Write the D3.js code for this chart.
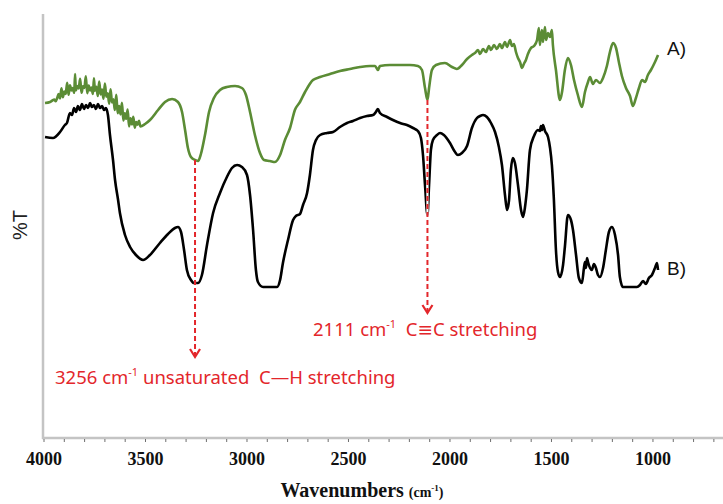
<!DOCTYPE html>
<html>
<head>
<meta charset="utf-8">
<script src="https://cdn.jsdelivr.net/npm/d3@7"></script>
<style>
  html, body { margin: 0; padding: 0; background: #fff; }
  svg { display: block; }
</style>
</head>
<body>
<svg id="chart" width="723" height="504"></svg>
<script>
// FTIR spectra: A) green trace, B) black trace (wavenumber in cm-1, transmittance in arbitrary %T units)
const aWavenumber = [3995,3970,3950,3942,3935,3928,3921,3914,3907,3900,3893,3886,3879,3872,3865,3858,3851,3847,3843,3836,3829,3822,3815,3808,3801,3794,3787,3780,3773,3766,3759,3754,3749,3742,3735,3728,3721,3714,3707,3700,3693,3686,3679,3672,3665,3658,3651,3644,3637,3630,3623,3616,3609,3602,3595,3588,3581,3574,3567,3560,3553,3546,3539,3532,3525,3502,3478,3438,3404,3369,3340,3320,3305,3291,3276,3256,3241,3227,3207,3187,3163,3133,3099,3059,3025,3005,2985,2961,2936,2916,2887,2862,2837,2813,2788,2764,2739,2714,2675,2640,2591,2542,2493,2443,2394,2369,2355,2345,2296,2246,2197,2158,2138,2123,2111,2103,2089,2069,2025,1990,1966,1941,1916,1892,1877,1862,1852,1837,1823,1808,1798,1783,1769,1754,1744,1729,1719,1704,1695,1685,1675,1665,1655,1645,1636,1626,1616,1601,1586,1571,1562,1557,1547,1542,1532,1527,1517,1507,1498,1493,1478,1458,1448,1434,1419,1404,1389,1370,1350,1335,1320,1310,1296,1281,1261,1246,1227,1212,1197,1182,1168,1153,1133,1113,1099,1084,1069,1054,1039,1025,1010,990,975];
const aTransmittance = [83.75,84,84.6,84.2,85.0,86.0,84.9,87.4,85.2,86.6,86.0,88.8,85.8,88.2,86.9,87.5,86.3,91.0,86.9,88.0,87.4,89.8,86.3,87.9,87.5,90.4,86.2,88.1,86.9,87.6,86.0,89.9,86.8,87.8,85.5,89.1,85.9,87.1,84.8,88.6,85.3,86.2,83.6,87.2,83.9,84.7,82.0,85.8,81.2,83.0,80.9,83.8,79.4,81.2,79.8,82.1,77.9,79.9,78.4,80.3,77.6,79.0,78.3,79.3,77.9,78.5,79.5,82,84,84.75,84,81.5,77,72.5,70.25,69.5,69.25,71,75.75,81.5,85,87,87.75,88,87.5,85.75,81.5,75.75,71.25,69.5,69.25,69,70.75,74.5,77.5,82,84,86.5,89.5,90.25,91,91.75,92.25,92.75,93,93,92,93,93.25,93.25,93.25,93,92,87.5,84.5,87.5,92,93.25,93.75,92.75,92.25,93.25,94.75,95.75,96.25,97,96,97.25,96.5,98,97,98.25,97.25,98.5,97.5,99,97.75,99.5,98,98.5,96.5,95,94,92.5,93.5,94.5,96,97.5,98,99.5,102.5,98.25,102,99,102.75,99.5,101.25,100.25,102,98.25,92,84.5,86.5,92,95,93.25,89.5,85.75,82.75,86.5,89,90.25,88.5,89.5,88.75,90,93,96.5,98.75,97.5,94,90.5,87.5,85.5,83,85,87.5,89.5,89,90.75,92,94,95.75];

const bWavenumber = [3995,3956,3921,3897,3887,3872,3862,3852,3842,3833,3823,3813,3803,3793,3783,3773,3764,3754,3744,3734,3724,3714,3704,3695,3685,3675,3660,3650,3635,3626,3601,3576,3547,3512,3478,3429,3389,3355,3340,3325,3310,3296,3276,3261,3241,3222,3197,3167,3133,3099,3074,3049,3025,3000,2985,2970,2956,2946,2921,2887,2852,2837,2823,2798,2773,2759,2739,2724,2704,2690,2675,2660,2640,2606,2576,2542,2507,2478,2443,2409,2379,2365,2355,2345,2310,2281,2246,2212,2182,2158,2143,2133,2123,2111,2103,2094,2084,2064,2049,2030,2000,1975,1961,1941,1916,1892,1867,1852,1837,1818,1798,1778,1759,1744,1729,1719,1709,1700,1690,1680,1665,1650,1640,1631,1621,1606,1586,1567,1557,1552,1547,1542,1532,1517,1507,1498,1488,1478,1468,1458,1443,1434,1419,1404,1394,1379,1365,1350,1340,1335,1330,1325,1320,1310,1301,1291,1281,1271,1261,1246,1232,1217,1202,1187,1172,1163,1148,1113,1079,1064,1049,1035,1020,1005,990,980,975];
const bTransmittance = [75.25,75,76.5,78.25,78.75,81.25,80.75,82.5,81.5,83,82,83.5,82.25,83.25,82.5,83.75,82.75,83.25,82.25,83.5,82.5,83,82,82.5,80.75,75.75,69.5,64.5,59.5,56.25,50.75,47.75,45.75,44.5,45.75,48.75,51,52.5,52.75,51.5,47,42,39.5,38.75,38.75,40.75,48.25,56.25,61.25,65.25,67.5,68.25,67.75,65.75,60.75,52,42,39,37.75,37.75,37.75,39.5,43.75,49.5,54.5,55.5,56,58.25,61.25,65.75,72,74.5,75.75,76.25,76.5,77.75,78.75,79.25,80,80.5,80.75,81.5,82.25,81.25,80.25,79.5,78.75,78.25,77.5,76.75,75,70.75,63.25,55.75,63.25,72,74.5,75.75,76.25,75.75,73.75,71.5,70.75,71.25,73,77.5,80,80.5,80.75,80.25,78.75,76.5,72.75,68.25,60.75,57,59.5,67,70,68.75,63.25,57,55.25,57.5,62,72,75.5,77,76.75,78,77,78.25,76.75,75.25,72.5,68.25,59.5,47,41.5,40.25,43.25,47.75,55.75,54.5,52,45.75,40,38.75,42.5,44,42.5,45,44,42.5,42,43.5,42.5,40.75,40.25,42.5,47,51.5,52.75,50.75,45.75,40.25,37.75,37.75,37.75,38.25,39.25,38.5,40,40.75,42.5,43.75,42];

// Axis ticks and labels
const majorTicks = [4000, 3500, 3000, 2500, 2000, 1500, 1000];
const minorTicks = d3.range(4000, 600, -100);
const xTitle = "Wavenumbers";
const xTitleUnit = "(cm";
const yTitle = "%T";
const seriesLabels = ["A)", "B)"];

// Band assignments marked with dashed arrows
const bandWavenumbers = [3256, 2111];
const bandStartT = [69.5, 84.5];
const bandNumbers = ["3256", "2111"];
const bandTexts = [" unsaturated  C\u2014H stretching", "  C\u2261C stretching"];

const svg = d3.select("#chart");
const W = 723, H = 504;
svg.append("rect").attr("width", W).attr("height", H).attr("fill", "#fff");

const x = d3.scaleLinear().domain([4000, 655]).range([44, 723]);
const y = d3.scaleLinear().domain([0, 106]).range([438, 14]);

const green = "#5b8c35";
const red = "#e3262b";

// axes frame (left and bottom)
svg.append("line")
  .attr("x1", x(4000) - 1).attr("x2", x(4000) - 1)
  .attr("y1", y(106)).attr("y2", y(0) + 1)
  .attr("stroke", "#c4c4c4").attr("stroke-width", 2.5);
svg.append("line")
  .attr("x1", x(4000) - 2).attr("x2", W)
  .attr("y1", y(0)).attr("y2", y(0))
  .attr("stroke", "#c4c4c4").attr("stroke-width", 2.5);

// bottom tick marks
svg.append("g").selectAll("line").data(minorTicks).join("line")
  .attr("x1", d => x(d)).attr("x2", d => x(d))
  .attr("y1", y(0) + 1).attr("y2", y(0) + 4)
  .attr("stroke", "#6e6e6e").attr("stroke-width", 1);

svg.append("g").selectAll("text").data(majorTicks).join("text")
  .attr("x", d => x(d)).attr("y", 465)
  .attr("text-anchor", "middle")
  .attr("font-family", "'Liberation Serif', 'Times New Roman', serif")
  .attr("font-weight", "bold").attr("font-size", 18)
  .attr("fill", "#111")
  .text(d => d);

// x axis title
const xt = svg.append("text")
  .attr("x", 362).attr("y", 497)
  .attr("text-anchor", "middle")
  .attr("font-family", "'Liberation Serif', 'Times New Roman', serif")
  .attr("font-weight", "bold").attr("fill", "#111");
xt.append("tspan").attr("font-size", 20).text(xTitle + " ");
xt.append("tspan").attr("font-size", 14).text(xTitleUnit);
xt.append("tspan").attr("font-size", 9).attr("dy", -6).text("-1");
xt.append("tspan").attr("font-size", 14).attr("dy", 6).text(")");

// y axis title
svg.append("text")
  .attr("transform", "translate(27,225) rotate(-90)")
  .attr("text-anchor", "middle")
  .attr("font-family", "'Liberation Sans', Arial, sans-serif")
  .attr("font-size", 20).attr("fill", "#222")
  .text(yTitle);

// spectra
const line = d3.line()
  .x(d => x(d[0])).y(d => y(d[1]))
  .curve(d3.curveMonotoneX);

const bData = bWavenumber.map((w, i) => [w, bTransmittance[i]]);
const aData = aWavenumber.map((w, i) => [w, aTransmittance[i]]);

svg.append("path").datum(bData)
  .attr("d", line).attr("fill", "none")
  .attr("stroke", "#000").attr("stroke-width", 2.6)
  .attr("stroke-linejoin", "round");

svg.append("path").datum(aData)
  .attr("d", line).attr("fill", "none")
  .attr("stroke", green).attr("stroke-width", 2.6)
  .attr("stroke-linejoin", "round");

// series labels next to line ends
const ends = [aData[aData.length - 1], bData[bData.length - 1]];
svg.append("g").selectAll("text").data(seriesLabels).join("text")
  .attr("x", (d, i) => x(ends[i][0]) + 9)
  .attr("y", (d, i) => i === 0 ? 55 : 275)
  .attr("font-family", "'Liberation Sans', Arial, sans-serif")
  .attr("font-size", 19).attr("fill", "#111")
  .text(d => d);

// band annotations: dashed arrow from the band minimum down to its label
const arrowTips = [357, 313];
const labelPos = [[55, 384], [313, 336]];
bandWavenumbers.forEach((w, i) => {
  const g = svg.append("g");
  const x0 = x(w), y0 = y(bandStartT[i]), y1 = arrowTips[i];
  g.append("line").attr("x1", x0).attr("x2", x0).attr("y1", y0).attr("y2", y1 - 2)
    .attr("stroke", "#fff").attr("stroke-width", 2.2);
  g.append("line").attr("x1", x0).attr("x2", x0).attr("y1", y0).attr("y2", y1 - 2)
    .attr("stroke", red).attr("stroke-width", 2).attr("stroke-dasharray", "5,3");
  g.append("path")
    .attr("d", `M${x0 - 5},${y1 - 8}L${x0},${y1}L${x0 + 5},${y1 - 8}`)
    .attr("fill", "none").attr("stroke", red).attr("stroke-width", 2.2)
    .attr("stroke-linejoin", "miter");

  const t = g.append("text")
    .attr("x", labelPos[i][0]).attr("y", labelPos[i][1])
    .attr("font-family", "'Noto Sans', 'DejaVu Sans', sans-serif")
    .attr("font-size", 18.5).attr("fill", red)
    .attr("xml:space", "preserve").style("white-space", "pre");
  t.append("tspan").text(bandNumbers[i] + " cm");
  t.append("tspan").attr("font-size", 11).attr("dy", -8).text("-1");
  t.append("tspan").attr("dy", 8).text(bandTexts[i]);
});
</script>
</body>
</html>
